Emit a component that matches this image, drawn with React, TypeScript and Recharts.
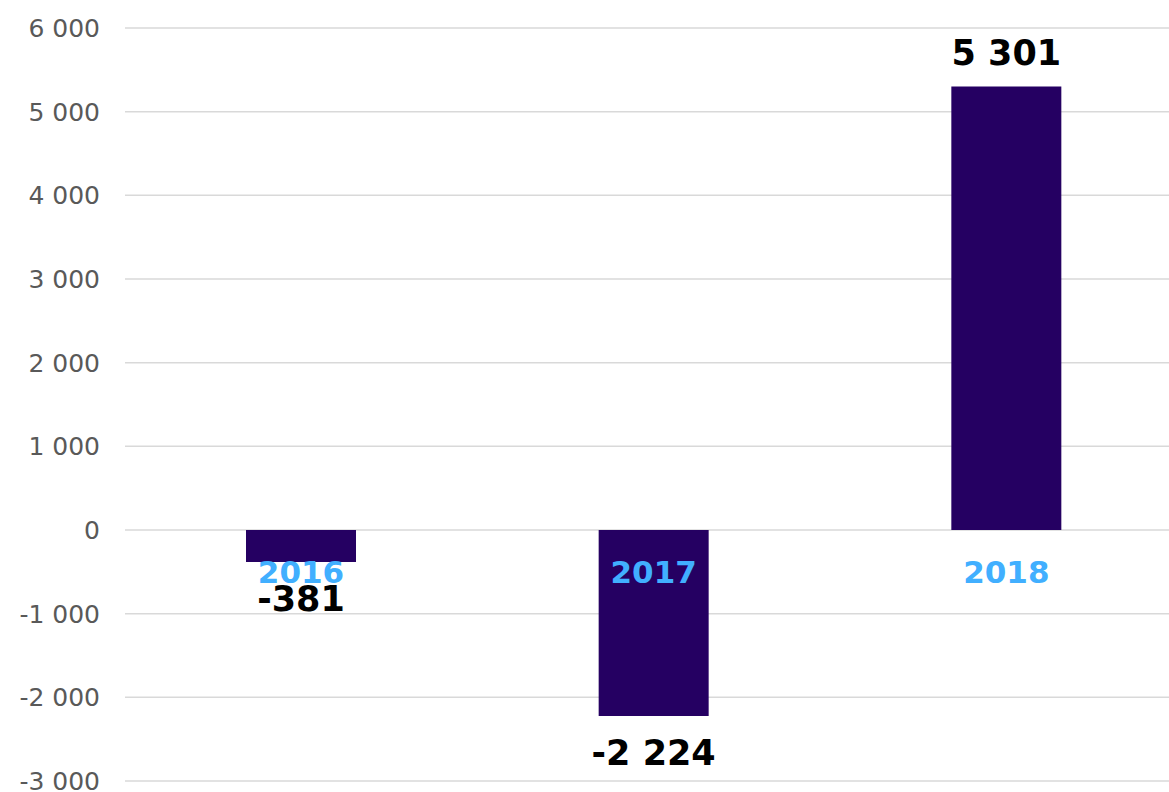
import { BarChart, Bar, XAxis, YAxis, CartesianGrid, LabelList } from "recharts"

const years = ["2016", "2017", "2018"]
const values = [-381, -2224, 5301]
const yTicks = [-3000, -2000, -1000, 0, 1000, 2000, 3000, 4000, 5000, 6000]

const data = years.map((year, i) => ({ year, value: values[i] }))

// thousands with a space, like "5 301"
const fmt = (v: number) => {
  const s = Math.abs(v).toString().replace(/\B(?=(\d{3})+(?!\d))/g, " ")
  return (v < 0 ? "-" : "") + s
}

// bar box -> zero line and bar end, whether height comes negative or not
function barEnds(props: any) {
  const x = Number(props.x ?? props.viewBox?.x)
  const y = Number(props.y ?? props.viewBox?.y)
  const w = Number(props.width ?? props.viewBox?.width)
  const h = Number(props.height ?? props.viewBox?.height)
  const top = h < 0 ? y + h : y
  const bottom = h < 0 ? y : y + h
  const v = values[props.index] ?? 0
  return {
    cx: x + w / 2,
    zero: v >= 0 ? bottom : top,
    end: v >= 0 ? top : bottom,
    v,
  }
}

const CategoryLabel = (props: any) => {
  const { cx, zero } = barEnds(props)
  return (
    <text
      x={cx}
      y={zero + 53}
      textAnchor="middle"
      fill="#41AFFF"
      fontFamily="DejaVu Sans, Verdana, sans-serif"
      fontWeight="bold"
      fontSize={31}
    >
      {years[props.index]}
    </text>
  )
}

const ValueLabel = (props: any) => {
  const { cx, end, v } = barEnds(props)
  return (
    <text
      x={cx}
      y={v >= 0 ? end - 21 : end + 49}
      textAnchor="middle"
      fill="#000"
      fontFamily="DejaVu Sans, Verdana, sans-serif"
      fontWeight="bold"
      fontSize={35}
    >
      {fmt(v)}
    </text>
  )
}

export default function App() {
  return (
    <div style={{ position: "absolute", left: 0, top: 0, width: 1169, height: 792, overflow: "hidden", background: "#fff" }}>
      <BarChart
        width={1183}
        height={792}
        data={data}
        margin={{ top: 28, right: 0, left: 0, bottom: 11 }}
      >
        <CartesianGrid vertical={false} stroke="#d9d9d9" strokeWidth={1.5} />
        <XAxis dataKey="year" hide />
        <YAxis
          domain={[-3000, 6000]}
          ticks={yTicks}
          interval={0}
          width={125}
          axisLine={false}
          tickLine={false}
          tickSize={0}
          tickMargin={25}
          tickFormatter={fmt}
          tick={{ fill: "#595959", fontSize: 25, fontFamily: "DejaVu Sans, Verdana, sans-serif" }}
        />
        <Bar dataKey="value" fill="#250062" barSize={110} isAnimationActive={false}>
          <LabelList dataKey="year" content={CategoryLabel} />
          <LabelList dataKey="value" content={ValueLabel} />
        </Bar>
      </BarChart>
    </div>
  )
}
